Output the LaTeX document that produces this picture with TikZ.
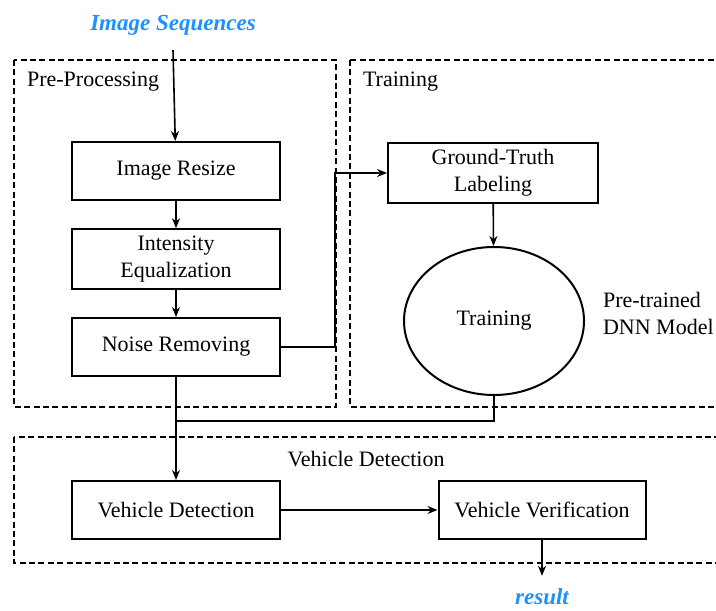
\documentclass[tikz,border=0pt]{standalone}
\usepackage{fontspec}
\setmainfont{Liberation Serif}
\usetikzlibrary{arrows.meta,shapes.geometric}
\definecolor{inblue}{RGB}{30,144,255}
\begin{document}
\begin{tikzpicture}[x=0.5pt, y=-0.5pt,
  every node/.style={font=\fontsize{11}{13.5}\selectfont},
  stagebox/.style={draw, line width=1pt, rectangle, minimum width=104pt, minimum height=29pt, align=center},
  groupbox/.style={draw, line width=1pt, dash pattern=on 3pt off 1.7pt},
  arr/.style={line width=0.8pt, -{Stealth[length=5pt,width=4pt]}},
  iolabel/.style={text=inblue, font=\fontsize{11.5}{13.5}\selectfont\bfseries\itshape}]
  \clip (0,0) rectangle (716,610);

  % dashed groups
  \draw[groupbox] (14,60) rectangle (336,407);
  \draw[groupbox] (350,60) rectangle (730,407);
  \draw[groupbox] (14,437) rectangle (730,563);
  \node[anchor=west] (gpre) at (20,82) {Pre-Processing};
  \node[anchor=west] (gtrain) at (356,82) {Training};
  \node (gdet) at (366,459) {Vehicle Detection};

  % pre-processing
  \node[iolabel] (input) at (173,25) {Image Sequences};
  \node[stagebox] (resize) at (176,171) {Image Resize};
  \node[stagebox] (equal) at (176,259) {Intensity\\Equalization};
  \node[stagebox] (noise) at (176,347) {Noise Removing};

  % training
  \node[stagebox, minimum width=105pt, minimum height=30pt] (label) at (493,173) {Ground-Truth\\Labeling};
  \node[draw, line width=1pt, ellipse, minimum width=90pt, minimum height=74pt] (train) at (494,321) {Training};
  \node[anchor=west, align=left] (dnn) at (596,313) {Pre-trained\\DNN Model};

  % detection
  \node[stagebox] (vdet) at (176,510) {Vehicle Detection};
  \node[stagebox, minimum width=103.5pt] (vver) at (542,510) {Vehicle Verification};
  \node[iolabel] (result) at (542,597) {result};
  \coordinate (join) at (176,421);

  \draw[arr] ([yshift=-4pt]input.south) -- (resize);
  \draw[arr] (resize) -- (equal);
  \draw[arr] (equal) -- (noise);
  \draw[arr] (noise.east) -- ++(54,0) |- (label.west);
  \draw[arr] (label) -- (train);
  \draw[line width=0.8pt] (train.south) |- (join);
  \draw[arr] (noise) -- (vdet);
  \draw[arr] (vdet) -- (vver);
  \draw[arr] (vver.south) -- ([yshift=3pt]result.north);
\end{tikzpicture}
\end{document}
